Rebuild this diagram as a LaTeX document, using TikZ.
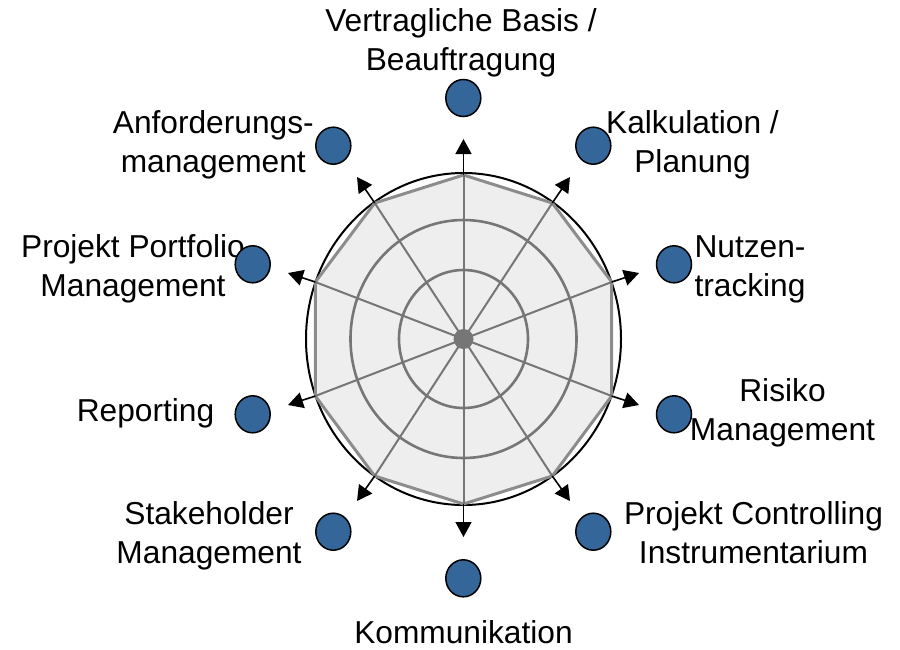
\documentclass[tikz,border=0pt]{standalone}
\usepackage{fontspec}
\setmainfont{Liberation Sans}
\usetikzlibrary{shapes.geometric,arrows.meta}
\definecolor{dotblue}{RGB}{52,102,153}
\definecolor{ringgray}{RGB}{118,118,118}
\definecolor{polygray}{RGB}{140,140,140}
\definecolor{polyfill}{RGB}{238,238,238}
\begin{document}
\begin{tikzpicture}[x=1pt,y=-1pt,
  lbl/.style={align=center,anchor=base,inner sep=0pt,font=\fontsize{31.7}{39}\selectfont},
  dot/.style={ellipse,draw=black,line width=1.5pt,fill=dotblue,minimum width=35pt,minimum height=37pt,inner sep=0pt},
  spoke/.style={draw=ringgray,line width=2pt},
  ring/.style={draw=ringgray,line width=2.6pt},
  outarrow/.style={draw=black,line width=1.6pt,-{Triangle[length=15pt,width=16pt]}}
]
\useasboundingbox (0,0) rectangle (900,649);
% geometry coordinates
\coordinate (C) at (463.5,339);
\coordinate (v0) at (463.5,175);
\coordinate (v1) at (552.3,203);
\coordinate (v2) at (611.7,282);
\coordinate (v3) at (611.7,396);
\coordinate (v4) at (552.3,476);
\coordinate (v5) at (463.5,504);
\coordinate (v6) at (374.7,476);
\coordinate (v7) at (315.3,396);
\coordinate (v8) at (315.3,282);
\coordinate (v9) at (374.7,203);
\coordinate (t0) at (463.5,139);
\coordinate (t1) at (570,177);
\coordinate (t2) at (639,273);
\coordinate (t3) at (639,405);
\coordinate (t4) at (570,501);
\coordinate (t5) at (463.5,537);
\coordinate (t6) at (357,501);
\coordinate (t7) at (288,405);
\coordinate (t8) at (288,273);
\coordinate (t9) at (357,177);
% outer circle
\draw[black,line width=2pt] (C) ellipse [x radius=157.5,y radius=166];
% polygon
\filldraw[fill=polyfill,draw=polygray,line width=3pt,line join=round] (v0)--(v1)--(v2)--(v3)--(v4)--(v5)--(v6)--(v7)--(v8)--(v9)--cycle;
% rings
\draw[ring] (C) ellipse [x radius=113,y radius=119];
\draw[ring] (C) ellipse [x radius=64.5,y radius=69];
% spokes
\foreach \i in {0,...,9} {\draw[spoke] (C) -- (v\i);}
\node[circle,fill=ringgray,minimum size=20pt,inner sep=0pt] (hub) at (C) {};
% arrows
\foreach \i in {0,...,9} {\draw[outarrow] (v\i) -- (t\i);}
% label behind its dot
\node[lbl] (lPort) at (133,296) {Projekt Portfolio\\Management};
% dots
\node[dot] (d0) at (463.3,98) {};
\node[dot] (d1) at (593.3,145.7) {};
\node[dot] (d2) at (674,264.3) {};
\node[dot] (d3) at (674,414.3) {};
\node[dot] (d4) at (593.3,531.7) {};
\node[dot] (d5) at (463.3,578.3) {};
\node[dot] (d6) at (333.3,531.7) {};
\node[dot] (d7) at (252.7,414.3) {};
\node[dot] (d8) at (252.7,264.3) {};
\node[dot] (d9) at (333.3,145.7) {};
% labels
\node[lbl] (lVer) at (461,70) {Vertragliche Basis /\\Beauftragung};
\node[lbl] (lKal) at (692.5,172.7) {Kalkulation /\\Planung};
\node[lbl] (lNut) at (750,296) {Nutzen-\\tracking};
\node[lbl] (lRis) at (782.5,440) {Risiko\\Management};
\node[lbl] (lCon) at (753.5,563.3) {Projekt Controlling\\Instrumentarium};
\node[lbl] (lKom) at (463.5,643) {Kommunikation};
\node[lbl] (lSta) at (209,563.3) {Stakeholder\\Management};
\node[lbl] (lRep) at (145.5,421.7) {Reporting};
\node[lbl] (lAnf) at (213.3,172.7) {Anforderungs-\\management};
\end{tikzpicture}
\end{document}
